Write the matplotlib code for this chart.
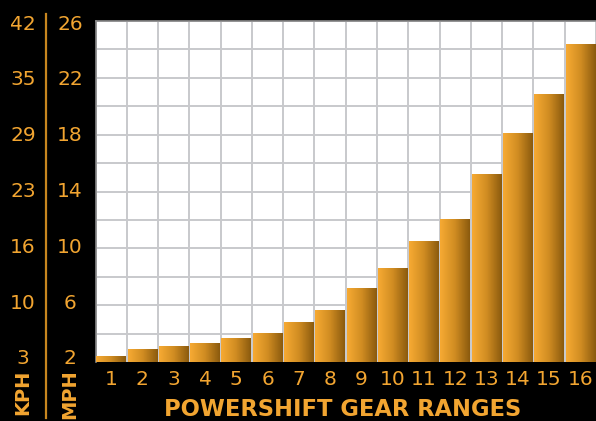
import matplotlib
matplotlib.use("Agg")
import matplotlib.pyplot as plt
import matplotlib.transforms as mtransforms
from matplotlib.colors import LinearSegmentedColormap
import numpy as np

gears = [str(i) for i in range(1, 17)]
mph = [2.44, 2.92, 3.15, 3.34, 3.71, 4.06, 4.82, 5.66, 7.2, 8.6, 10.5, 12.06, 15.2, 18.1, 20.86, 24.4]
mph_ticks = [2, 6, 10, 14, 18, 22, 26]
kph_labels = ["3", "10", "16", "23", "29", "35", "42"]

ORANGE = "#F2A531"
plt.rcParams['font.family'] = ['DejaVu Sans']

fig = plt.figure(figsize=(5.96, 4.21), dpi=100, facecolor="black")
ax = fig.add_axes([95.5 / 596, 59 / 421, 1 - 95.5 / 596, 341 / 421])
ax.set_facecolor("white")

x = np.arange(len(gears))
ax.set_xlim(-0.5, len(gears) - 0.5)
ax.set_ylim(2, 26)

# grid
ax.set_yticks(np.arange(2, 27, 2), minor=False)
ax.set_xticks(np.arange(-0.5, len(gears), 1.0), minor=True)
ax.grid(True, which="major", axis="y", color="#c8c9cc", lw=1.4, zorder=0)
ax.grid(True, which="minor", axis="x", color="#c8c9cc", lw=1.4, zorder=0)
ax.set_axisbelow(True)

cmap = LinearSegmentedColormap.from_list("bar", ["#F7AA33", "#D08C22", "#8A5A0E"])
grad = np.linspace(0, 1, 256).reshape(1, -1)
bars = ax.bar(x, [v - 2 for v in mph], bottom=2, width=0.95, color="none",
              edgecolor="none", zorder=2)
for b in bars:
    x0, y0, w, h = b.get_x(), b.get_y(), b.get_width(), b.get_height()
    im = ax.imshow(grad, cmap=cmap, aspect="auto", extent=[x0, x0 + w, y0, y0 + h],
                   zorder=3, interpolation="bicubic")
    im.set_clip_path(b)

ax.set_xlim(-0.5, len(gears) - 0.5)
ax.set_ylim(2, 26)

for s in ["right", "bottom"]:
    ax.spines[s].set_visible(False)
for s in ["top", "left"]:
    ax.spines[s].set_color("#8a8a8a")
    ax.spines[s].set_linewidth(1.2)

ax.tick_params(axis="both", which="both", length=0)
ax.set_yticklabels([])
ax.set_xticks(x)
ax.set_xticklabels(gears, color=ORANGE, fontsize=14.5)
ax.tick_params(axis="x", pad=6)

# axis labels are slightly compressed toward the middle of the axis
trans = mtransforms.blended_transform_factory(fig.transFigure, ax.transAxes)
y0d, y1d = ax.get_ylim()
for v, k in zip(mph_ticks, kph_labels):
    frac = (v - y0d) / (y1d - y0d)
    yy = 0.5 + (frac - 0.5) * 0.981
    ax.text(70 / 596, yy, str(v), transform=trans, ha="center", va="center",
            color=ORANGE, fontsize=14.5, clip_on=False)
    ax.text(23 / 596, yy, k, transform=trans, ha="center", va="center",
            color=ORANGE, fontsize=14.5, clip_on=False)

fig.add_artist(plt.Line2D([46.3 / 596, 46.3 / 596], [1 - 14 / 421, 1 - 418 / 421],
                          color="#C8861F", lw=1.6, transform=fig.transFigure))

fig.text(23 / 596, 1 - 392 / 421, "KPH", rotation=90, ha="center", va="center",
         color=ORANGE, fontsize=14, fontweight="bold")
fig.text(70 / 596, 1 - 394 / 421, "MPH", rotation=90, ha="center", va="center",
         color=ORANGE, fontsize=14, fontweight="bold")
fig.text(343 / 596, 1 - 409 / 421, "POWERSHIFT GEAR RANGES", ha="center", va="center",
         color=ORANGE, fontsize=16.3, fontweight="bold")

fig.savefig("out.png", dpi=100, facecolor="black")
